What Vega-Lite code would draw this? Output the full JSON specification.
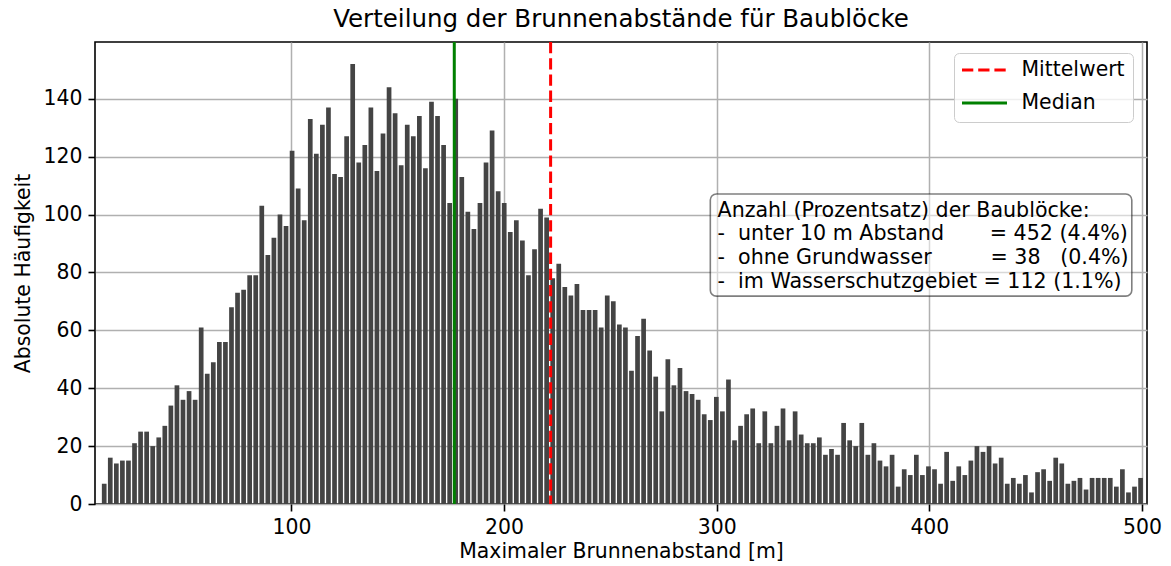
{
  "$schema": "https://vega.github.io/schema/vega-lite/v6.json",
  "width": 1052,
  "height": 462,
  "autosize": {"type": "none"},
  "padding": {"left": 95, "top": 42, "right": 24, "bottom": 62},
  "background": "white",
  "title": {"text": "Verteilung der Brunnenabstände für Baublöcke", "fontSize": 24.5, "font": "DejaVu Sans", "fontWeight": "normal", "color": "black", "anchor": "middle", "offset": 8},
  "config": {
    "view": {"stroke": "black", "strokeWidth": 1.6},
    "axis": {"labelFont": "DejaVu Sans", "titleFont": "DejaVu Sans", "labelFontSize": 20.4, "titleFontSize": 20.4, "titleFontWeight": "normal", "labelColor": "black", "titleColor": "black", "tickColor": "black", "tickWidth": 1.6, "tickSize": 7, "domain": false, "grid": true, "gridColor": "#b0b0b0", "gridWidth": 1.5, "zindex": 1, "labelPadding": 6},
    "legend": {"orient": "none", "legendX": 859, "legendY": 11, "labelFont": "DejaVu Sans", "labelFontSize": 20.4, "labelColor": "black", "symbolSize": 2025, "symbolStrokeWidth": 3, "padding": 8, "clipHeight": 18, "rowPadding": 12, "symbolOffset": -1.5, "labelOffset": 13, "strokeColor": "#cccccc", "fillColor": "rgba(255,255,255,0.8)", "cornerRadius": 5}
  },
  "datasets": {
    "hist": [
      {"x": 11.98, "n": 7}, {"x": 14.83, "n": 16}, {"x": 17.68, "n": 14}, {"x": 20.53, "n": 15}, {"x": 23.38, "n": 15},
      {"x": 26.23, "n": 21}, {"x": 29.08, "n": 25}, {"x": 31.93, "n": 25}, {"x": 34.78, "n": 20}, {"x": 37.63, "n": 23},
      {"x": 40.48, "n": 27}, {"x": 43.33, "n": 34}, {"x": 46.18, "n": 41}, {"x": 49.03, "n": 36}, {"x": 51.88, "n": 39},
      {"x": 54.73, "n": 36}, {"x": 57.58, "n": 61}, {"x": 60.43, "n": 45}, {"x": 63.28, "n": 49}, {"x": 66.13, "n": 56},
      {"x": 68.98, "n": 56}, {"x": 71.83, "n": 68}, {"x": 74.68, "n": 73}, {"x": 77.53, "n": 74}, {"x": 80.38, "n": 79},
      {"x": 83.23, "n": 79}, {"x": 86.08, "n": 103}, {"x": 88.93, "n": 86}, {"x": 91.78, "n": 92}, {"x": 94.63, "n": 100},
      {"x": 97.48, "n": 96}, {"x": 100.33, "n": 122}, {"x": 103.18, "n": 109}, {"x": 106.03, "n": 98}, {"x": 108.88, "n": 133},
      {"x": 111.73, "n": 121}, {"x": 114.58, "n": 131}, {"x": 117.43, "n": 137}, {"x": 120.28, "n": 114}, {"x": 123.13, "n": 113},
      {"x": 125.98, "n": 127}, {"x": 128.83, "n": 152}, {"x": 131.68, "n": 118}, {"x": 134.53, "n": 124}, {"x": 137.38, "n": 137},
      {"x": 140.23, "n": 115}, {"x": 143.08, "n": 128}, {"x": 145.93, "n": 144}, {"x": 148.78, "n": 135}, {"x": 151.63, "n": 117},
      {"x": 154.48, "n": 131}, {"x": 157.33, "n": 127}, {"x": 160.18, "n": 134}, {"x": 163.03, "n": 116}, {"x": 165.88, "n": 139},
      {"x": 168.73, "n": 134}, {"x": 171.58, "n": 124}, {"x": 174.43, "n": 104}, {"x": 177.28, "n": 140}, {"x": 180.13, "n": 113},
      {"x": 182.98, "n": 101}, {"x": 185.83, "n": 95}, {"x": 188.68, "n": 104}, {"x": 191.53, "n": 118}, {"x": 194.38, "n": 129},
      {"x": 197.23, "n": 108}, {"x": 200.08, "n": 104}, {"x": 202.93, "n": 94}, {"x": 205.78, "n": 98}, {"x": 208.63, "n": 91},
      {"x": 211.48, "n": 79}, {"x": 214.33, "n": 88}, {"x": 217.18, "n": 102}, {"x": 220.03, "n": 99}, {"x": 222.88, "n": 78},
      {"x": 225.73, "n": 83}, {"x": 228.58, "n": 75}, {"x": 231.43, "n": 72}, {"x": 234.28, "n": 76}, {"x": 237.13, "n": 67},
      {"x": 239.98, "n": 67}, {"x": 242.83, "n": 67}, {"x": 245.68, "n": 61}, {"x": 248.53, "n": 72}, {"x": 251.38, "n": 70},
      {"x": 254.23, "n": 62}, {"x": 257.08, "n": 61}, {"x": 259.93, "n": 46}, {"x": 262.78, "n": 58}, {"x": 265.63, "n": 64},
      {"x": 268.48, "n": 53}, {"x": 271.33, "n": 44}, {"x": 274.18, "n": 32}, {"x": 277.03, "n": 50}, {"x": 279.88, "n": 41},
      {"x": 282.73, "n": 47}, {"x": 285.58, "n": 39}, {"x": 288.43, "n": 38}, {"x": 291.28, "n": 36}, {"x": 294.13, "n": 31},
      {"x": 296.98, "n": 29}, {"x": 299.83, "n": 37}, {"x": 302.68, "n": 32}, {"x": 305.53, "n": 43}, {"x": 308.38, "n": 22},
      {"x": 311.23, "n": 27}, {"x": 314.08, "n": 31}, {"x": 316.93, "n": 33}, {"x": 319.78, "n": 21}, {"x": 322.63, "n": 32},
      {"x": 325.48, "n": 21}, {"x": 328.33, "n": 27}, {"x": 331.18, "n": 33}, {"x": 334.03, "n": 22}, {"x": 336.88, "n": 32},
      {"x": 339.73, "n": 24}, {"x": 342.58, "n": 21}, {"x": 345.43, "n": 21}, {"x": 348.28, "n": 23}, {"x": 351.13, "n": 17},
      {"x": 353.98, "n": 19}, {"x": 356.83, "n": 17}, {"x": 359.68, "n": 28}, {"x": 362.53, "n": 22}, {"x": 365.38, "n": 20},
      {"x": 368.23, "n": 28}, {"x": 371.08, "n": 17}, {"x": 373.93, "n": 21}, {"x": 376.78, "n": 15}, {"x": 379.63, "n": 13},
      {"x": 382.48, "n": 17}, {"x": 385.33, "n": 6}, {"x": 388.18, "n": 12}, {"x": 391.03, "n": 10}, {"x": 393.88, "n": 17},
      {"x": 396.73, "n": 10}, {"x": 399.58, "n": 13}, {"x": 402.43, "n": 12}, {"x": 405.28, "n": 7}, {"x": 408.13, "n": 18},
      {"x": 410.98, "n": 8}, {"x": 413.83, "n": 13}, {"x": 416.68, "n": 10}, {"x": 419.53, "n": 15}, {"x": 422.38, "n": 20},
      {"x": 425.23, "n": 18}, {"x": 428.08, "n": 20}, {"x": 430.93, "n": 14}, {"x": 433.78, "n": 16}, {"x": 436.63, "n": 7},
      {"x": 439.48, "n": 9}, {"x": 442.33, "n": 7}, {"x": 445.18, "n": 10}, {"x": 448.03, "n": 4}, {"x": 450.88, "n": 11},
      {"x": 453.73, "n": 12}, {"x": 456.58, "n": 8}, {"x": 459.43, "n": 16}, {"x": 462.28, "n": 14}, {"x": 465.13, "n": 7},
      {"x": 467.98, "n": 8}, {"x": 470.83, "n": 9}, {"x": 473.68, "n": 5}, {"x": 476.53, "n": 9}, {"x": 479.38, "n": 9},
      {"x": 482.23, "n": 9}, {"x": 485.08, "n": 9}, {"x": 487.93, "n": 6}, {"x": 490.78, "n": 12}, {"x": 493.63, "n": 4},
      {"x": 496.48, "n": 6}, {"x": 499.33, "n": 9}
    ],
    "stats": [
      {"stat": "Mittelwert", "value": 221.9},
      {"stat": "Median", "value": 176.6}
    ],
    "one": [{}]
  },
  "layer": [
    {
      "data": {"name": "hist"},
      "mark": {"type": "bar", "size": 4.7, "color": "#444444", "clip": true},
      "encoding": {
        "x": {"field": "x", "type": "quantitative", "title": "Maximaler Brunnenabstand [m]",
              "scale": {"domain": [10, 500], "nice": false, "zero": false},
              "axis": {"values": [100, 200, 300, 400, 500], "titlePadding": 4}},
        "y": {"field": "n", "type": "quantitative", "title": "Absolute Häufigkeit",
              "scale": {"domain": [0, 159.6], "nice": false},
              "axis": {"values": [0, 20, 40, 60, 80, 100, 120, 140], "titlePadding": 10}}
      }
    },
    {
      "data": {"name": "stats"},
      "mark": {"type": "rule", "strokeWidth": 3},
      "encoding": {
        "x": {"field": "value", "type": "quantitative", "title": "Maximaler Brunnenabstand [m]"},
        "color": {"field": "stat", "type": "nominal", "title": null,
                  "scale": {"domain": ["Mittelwert", "Median"], "range": ["#ff0000", "#008000"]}},
        "strokeDash": {"field": "stat", "type": "nominal", "title": null,
                       "scale": {"domain": ["Mittelwert", "Median"], "range": [[11.3, 4.9], [1, 0]]}}
      }
    },
    {
      "data": {"name": "one"},
      "mark": {"type": "rect", "cornerRadius": 6, "fill": "white", "fillOpacity": 0.5, "stroke": "black", "strokeOpacity": 0.5, "strokeWidth": 1.6},
      "encoding": {
        "x": {"datum": 297.0, "type": "quantitative", "title": "Maximaler Brunnenabstand [m]"},
        "x2": {"datum": 495.2},
        "y": {"datum": 107.1, "type": "quantitative", "title": "Absolute Häufigkeit"},
        "y2": {"datum": 71.8}
      }
    },
    {
      "data": {"name": "one"},
      "mark": {"type": "text", "align": "left", "baseline": "alphabetic", "font": "DejaVu Sans", "fontSize": 20.6, "lineHeight": 23.6, "color": "black",
               "text": ["Anzahl (Prozentsatz) der Baublöcke:",
                        "-\u00a0\u00a0unter 10 m Abstand\u00a0\u00a0\u00a0\u00a0\u00a0\u00a0\u00a0= 452 (4.4%)",
                        "-\u00a0\u00a0ohne Grundwasser\u00a0\u00a0\u00a0\u00a0\u00a0\u00a0\u00a0\u00a0\u00a0= 38\u00a0\u00a0\u00a0(0.4%)",
                        "-\u00a0\u00a0im Wasserschutzgebiet = 112 (1.1%)"]},
      "encoding": {
        "x": {"datum": 300.4, "type": "quantitative", "title": "Maximaler Brunnenabstand [m]"},
        "y": {"datum": 99.2, "type": "quantitative", "title": "Absolute Häufigkeit"}
      }
    }
  ]
}
